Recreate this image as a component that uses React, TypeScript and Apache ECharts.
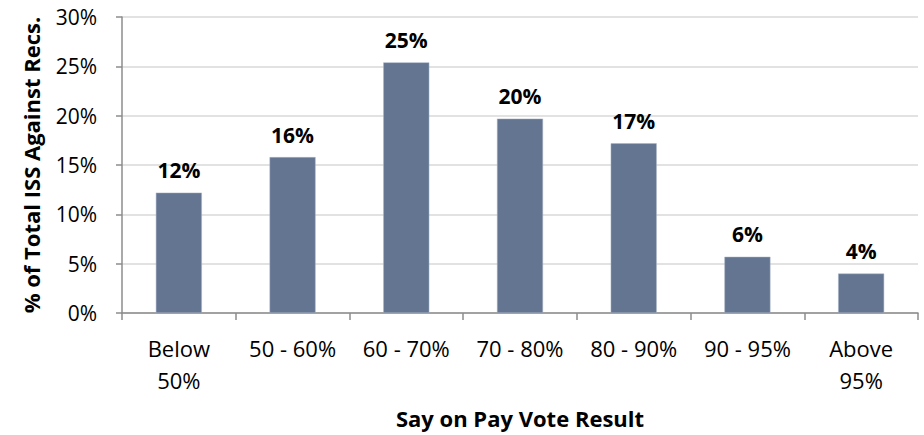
import React, { useEffect, useRef } from "react";
import * as echarts from "echarts";

const categories = ["Below\n50%", "50 - 60%", "60 - 70%", "70 - 80%", "80 - 90%", "90 - 95%", "Above\n95%"];
const values = [12.2, 15.8, 25.4, 19.7, 17.2, 5.7, 4.0];
const yTicks = [0, 5, 10, 15, 20, 25, 30];

const FONT = "'Open Sans', 'Noto Sans', sans-serif";

export default function App() {
  const ref = useRef<HTMLDivElement>(null);
  useEffect(() => {
    if (!ref.current) return;
    const chart = echarts.init(ref.current, undefined, { renderer: "svg" });
    chart.setOption({
      animation: false,
      grid: { left: 122, right: 6, top: 17, bottom: 122, containLabel: false },
      xAxis: {
        type: "category",
        data: categories,
        boundaryGap: true,
        name: "Say on Pay Vote Result",
        nameLocation: "middle",
        nameGap: 94,
        nameTextStyle: { fontFamily: FONT, fontSize: 22, fontWeight: "bold", color: "#000" },
        axisLine: { lineStyle: { color: "#8c8c8c", width: 1.5 } },
        axisTick: { show: true, alignWithLabel: false, length: 7, lineStyle: { color: "#8c8c8c", width: 1.5 } },
        axisLabel: { fontFamily: FONT, fontSize: 22, color: "#000", margin: 19, lineHeight: 32, interval: 0 },
      },
      yAxis: {
        type: "value",
        min: yTicks[0],
        max: yTicks[yTicks.length - 1],
        interval: 5,
        name: "% of Total ISS Against Recs.",
        nameLocation: "middle",
        nameGap: 80,
        nameRotate: 90,
        nameTextStyle: { fontFamily: FONT, fontSize: 22, fontWeight: "bold", color: "#000" },
        axisLine: { show: true, lineStyle: { color: "#8c8c8c", width: 1.5 } },
        axisTick: { show: true, length: 6, lineStyle: { color: "#8c8c8c", width: 1.5 } },
        axisLabel: { fontFamily: FONT, fontSize: 21, color: "#000", margin: 25, formatter: (v: number) => v + "%" },
        splitLine: { lineStyle: { color: "#d9d9d9", width: 1.5 } },
      },
      series: [
        {
          type: "bar",
          data: values,
          barWidth: 46,
          itemStyle: { color: "#647592", borderColor: "#a9b4c6", borderWidth: 0.5 },
          label: {
            show: true,
            position: "top",
            distance: 12,
            fontFamily: FONT,
            fontSize: 21,
            fontWeight: "bold",
            color: "#000",
            formatter: (p: any) => Math.round(p.value) + "%",
          },
        },
      ],
    });
    return () => chart.dispose();
  }, []);
  return <div ref={ref} style={{ width: 924, height: 435, position: "absolute", left: 0, top: 0 }} />;
}
